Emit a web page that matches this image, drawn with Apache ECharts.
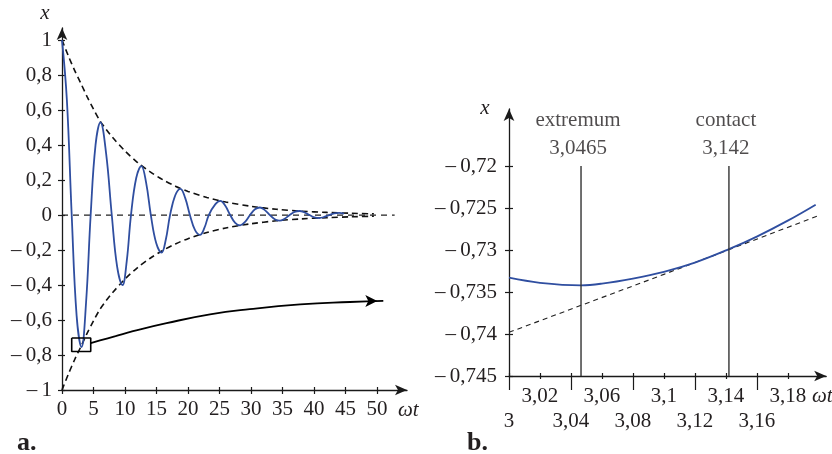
<!DOCTYPE html>
<html><head><meta charset="utf-8">
<script src="https://cdn.jsdelivr.net/npm/echarts@6/dist/echarts.min.js"></script>
<style>html,body{margin:0;padding:0;background:#fff}#c{width:832px;height:454px}</style>
</head><body><div id="c"></div>
<script>
// ---------- Panel a ----------
const aTicksX = [0,5,10,15,20,25,30,35,40,45,50];
const aTicksY = [-1,-0.8,-0.6,-0.4,-0.2,0,0.2,0.4,0.6,0.8,1];
const blueT = [0,0.77,1.54,2.32,3.10,3.82,4.55,5.32,6.10,7.0,7.9,8.75,9.6,10.28,10.95,11.78,12.6,13.35,14.1,14.95,15.8,16.48,17.15,17.98,18.8,19.55,20.3,21.1,21.9,22.6,23.3,24.35,25.13,25.92,26.70,27.49,28.27,29.06,29.85,30.63,31.42,32.20,32.99,33.77,34.56,35.34,36.13,36.91,37.70,38.48,39.27,40.06,40.84,41.63,42.41,43.20,43.98,44.77];
const blueX = [1,0.660,0,-0.575,-0.755,-0.500,0,0.400,0.530,0.352,0,-0.295,-0.400,-0.262,0,0.212,0.280,0.185,0,-0.160,-0.215,-0.140,0,0.113,0.150,0.098,0,-0.085,-0.113,-0.074,0,0.062,0.081,0.053,0,-0.045,-0.059,-0.039,0,0.033,0.043,0.028,0,-0.024,-0.032,-0.021,0,0.018,0.023,0.015,0,-0.013,-0.017,-0.011,0,0.009,0.012,0.008];
const envT = [0,1,2,3,4,5,6,7,8,10,12,14,16,18,20,23,26,30,34,38,42,46,49.5];
const envUp = [1,0.910,0.827,0.752,0.675,0.605,0.540,0.490,0.445,0.366,0.300,0.247,0.202,0.165,0.135,0.100,0.074,0.050,0.033,0.022,0.015,0.010,0.007];
const envLo = envUp.map(v => -v);
const zeroT = [0, 52.8];
const zeroX = [0, 0];
const boxT = [1.54, 4.56, 4.56, 1.54, 1.54];
const boxX = [-0.703, -0.703, -0.780, -0.780, -0.703];
const arrT = [4.56, 6.03, 8.5, 11.27, 16.6, 23.5, 29.8, 37.8, 45.7, 51];
const arrX = [-0.732, -0.717, -0.692, -0.664, -0.618, -0.568, -0.538, -0.511, -0.497, -0.491];

// ---------- Panel b ----------
const bTicksX = [3,3.02,3.04,3.06,3.08,3.1,3.12,3.14,3.16,3.18];
const bTicksXUpper = [3.02,3.06,3.1,3.14,3.18];
const bTicksXLower = [3,3.04,3.08,3.12,3.16];
const bTicksY = [-0.745,-0.74,-0.735,-0.73,-0.725,-0.72];
const bBlueT = [3.00,3.02,3.0465,3.06,3.08,3.10,3.12,3.142,3.16,3.18,3.198];
const bBlueX = [-0.7333,-0.7339,-0.7342,-0.7340,-0.7334,-0.7326,-0.7315,-0.7299,-0.7284,-0.7265,-0.7246];
const bTanT = [3.0, 3.1, 3.2];
const bTanX = [-0.7398, -0.7329, -0.7259];
const markT = [3.0465, 3.142];
const markName = ['extremum', 'contact'];
const markText = ['3,0465', '3,142'];
const markBottom = -0.745, markTop = -0.72;

const FONT = 'Liberation Serif';
const TXT = '#231f20';
const AX = '#1a1a1a';
const BLUE = '#2f4ea0';
const pairs = (a, b) => a.map((t, i) => [t, b[i]]);
const numLbl = v => (v < 0 ? '\u2013\u2009' : '') + String(Math.abs(v)).replace('.', ',');
const lblStyle = {fontFamily: FONT, fontSize: 21, color: TXT};

function baseAxis(extra) {
  return Object.assign({
    type: 'value', splitLine: {show: false},
    axisLine: {show: false, onZero: false},
    axisTick: {show: false}, axisLabel: {show: false}
  }, extra);
}
const arrowLine = {show: true, onZero: false, symbol: ['none', 'arrow'], symbolSize: [8, 12], lineStyle: {color: AX, width: 1.3}};
const tickLS = {color: AX, width: 1.2};

const option = {
  animation: false,
  backgroundColor: '#fff',
  grid: [
    {left: 62, top: 28, width: 345, height: 362},
    {left: 509, top: 109, width: 317.2, height: 267}
  ],
  xAxis: [
    baseAxis({gridIndex: 0, position: 'bottom', min: 0, max: 54.76, axisLine: arrowLine,
      axisTick: {show: true, customValues: aTicksX, length: 4, lineStyle: tickLS},
      axisLabel: Object.assign({show: true, customValues: aTicksX, margin: 9, formatter: v => String(v)}, lblStyle)}),
    baseAxis({gridIndex: 0, position: 'bottom', min: 0, max: 54.76,
      axisTick: {show: true, inside: true, customValues: aTicksX, length: 3, lineStyle: tickLS}}),
    baseAxis({gridIndex: 1, position: 'bottom', min: 3, max: 3.2048, axisLine: arrowLine,
      axisTick: {show: true, customValues: bTicksXUpper, length: 3, lineStyle: tickLS},
      axisLabel: Object.assign({show: true, customValues: bTicksXUpper, margin: 10, formatter: v => numLbl(v)}, lblStyle)}),
    baseAxis({gridIndex: 1, position: 'bottom', min: 3, max: 3.2048,
      axisTick: {show: true, inside: true, customValues: bTicksX, length: 3, lineStyle: tickLS}}),
    baseAxis({gridIndex: 1, position: 'bottom', min: 3, max: 3.2048,
      axisTick: {show: true, customValues: bTicksXLower, length: 14, lineStyle: tickLS},
      axisLabel: Object.assign({show: true, customValues: bTicksXLower, margin: 35, formatter: v => numLbl(v)}, lblStyle)})
  ],
  yAxis: [
    baseAxis({gridIndex: 0, position: 'left', min: -1, max: 1.069, axisLine: arrowLine,
      axisTick: {show: true, customValues: aTicksY, length: 4, lineStyle: tickLS},
      axisLabel: Object.assign({show: true, customValues: aTicksY, margin: 10, formatter: v => numLbl(v)}, lblStyle)}),
    baseAxis({gridIndex: 0, position: 'left', min: -1, max: 1.069,
      axisTick: {show: true, inside: true, customValues: aTicksY, length: 3, lineStyle: tickLS}}),
    baseAxis({gridIndex: 1, position: 'left', min: -0.745, max: -0.71321, axisLine: arrowLine,
      axisTick: {show: true, customValues: bTicksY, length: 4, lineStyle: tickLS},
      axisLabel: Object.assign({show: true, customValues: bTicksY, margin: 12, formatter: v => numLbl(v)}, lblStyle)}),
    baseAxis({gridIndex: 1, position: 'left', min: -0.745, max: -0.71321,
      axisTick: {show: true, inside: true, customValues: bTicksY, length: 4, lineStyle: tickLS}})
  ],
  series: [
    {type: 'line', xAxisIndex: 0, yAxisIndex: 0, data: pairs(zeroT, zeroX), symbol: 'none',
      lineStyle: {color: '#222', width: 1.2, type: [6, 5]}},
    {type: 'line', xAxisIndex: 0, yAxisIndex: 0, data: pairs(envT, envUp), symbol: 'none', smooth: 0.3,
      lineStyle: {color: '#111', width: 1.6, type: [6, 4]}},
    {type: 'line', xAxisIndex: 0, yAxisIndex: 0, data: pairs(envT, envLo), symbol: 'none', smooth: 0.3,
      lineStyle: {color: '#111', width: 1.6, type: [6, 4]}},
    {type: 'line', xAxisIndex: 0, yAxisIndex: 0, data: pairs(blueT, blueX), symbol: 'none', smooth: 0.4,
      lineStyle: {color: BLUE, width: 1.8}},
    {type: 'line', xAxisIndex: 0, yAxisIndex: 0, data: pairs(boxT, boxX), symbol: 'none',
      lineStyle: {color: '#000', width: 1.6}},
    {type: 'line', xAxisIndex: 0, yAxisIndex: 0, smooth: 0.5, showSymbol: true, symbol: 'none',
      data: pairs(arrT, arrX).map((p, i, a) => i === a.length - 1
        ? {value: p, symbol: 'arrow', symbolSize: [9, 12], symbolRotate: -90, symbolOffset: [-6, 0], itemStyle: {color: '#000'}}
        : {value: p}),
      lineStyle: {color: '#000', width: 1.8}},
    {type: 'line', xAxisIndex: 2, yAxisIndex: 2, data: pairs(bTanT, bTanX), symbol: 'none',
      lineStyle: {color: '#222', width: 1.1, type: [5, 4]}},
    {type: 'line', xAxisIndex: 2, yAxisIndex: 2, data: pairs(bBlueT, bBlueX), symbol: 'none', smooth: 0.4,
      lineStyle: {color: BLUE, width: 1.8}},
    ...markT.map(t => ({type: 'line', xAxisIndex: 2, yAxisIndex: 2, symbol: 'none',
      data: [[t, markBottom], [t, markTop]], lineStyle: {color: '#333', width: 1.4}})),
    {type: 'scatter', xAxisIndex: 2, yAxisIndex: 2, symbol: 'circle', symbolSize: 1,
      itemStyle: {color: 'rgba(0,0,0,0)'},
      data: markT.map((t, i) => ({value: [t, markTop], name: markName[i] + '\n' + markText[i]})),
      label: {show: true, position: 'top', distance: 3, offset: [-3, 0], formatter: p => p.name,
        fontFamily: FONT, fontSize: 21, color: TXT, lineHeight: 28, align: 'center'}}
  ],
  graphic: [
    {type: 'text', x: 45, y: 13, style: {text: 'x', font: 'italic 21px "Liberation Serif"', fill: TXT, align: 'center', verticalAlign: 'middle'}},
    {type: 'text', x: 398, y: 410, style: {text: '\u03c9t', font: 'italic 21px "Liberation Serif"', fill: TXT, align: 'left', verticalAlign: 'middle'}},
    {type: 'text', x: 485, y: 108, style: {text: 'x', font: 'italic 21px "Liberation Serif"', fill: TXT, align: 'center', verticalAlign: 'middle'}},
    {type: 'text', x: 812, y: 396, style: {text: '\u03c9t', font: 'italic 21px "Liberation Serif"', fill: TXT, align: 'left', verticalAlign: 'middle'}},
    {type: 'text', x: 17, y: 443, style: {text: 'a.', font: 'bold 26px "Liberation Serif"', fill: TXT, align: 'left', verticalAlign: 'middle'}},
    {type: 'text', x: 467, y: 443, style: {text: 'b.', font: 'bold 26px "Liberation Serif"', fill: TXT, align: 'left', verticalAlign: 'middle'}}
  ]
};
const chart = echarts.init(document.getElementById('c'), null, {renderer: 'canvas'});
chart.setOption(option);
</script></body></html>
